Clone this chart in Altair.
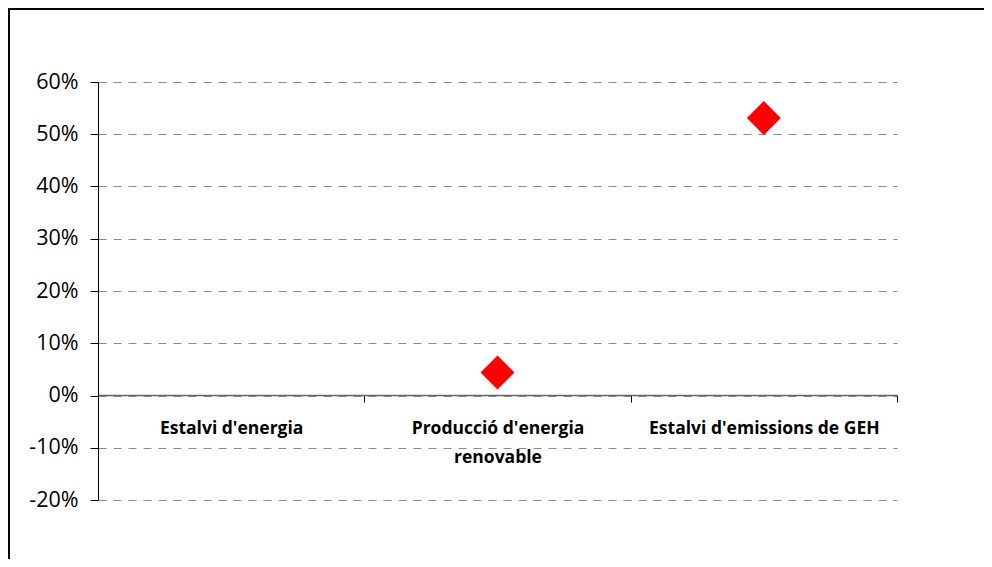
import altair as alt
import pandas as pd

categories = ["Estalvi d'energia", "Producció d'energia renovable", "Estalvi d'emissions de GEH"]
values = [None, 0.044, 0.531]
y_ticks = [-0.2, -0.1, 0.0, 0.1, 0.2, 0.3, 0.4, 0.5, 0.6]

df = pd.DataFrame({"cat": categories, "val": values})

W, H = 799, 418
PL, PT = 90, 74
TOTAL_W, TOTAL_H = 976, 551

label_expr = ('datum.label == "Producció d\'energia renovable" ? '
              '["Producció d\'energia", "renovable"] : datum.label')

x_enc = alt.X(
    "cat:N",
    sort=categories,
    scale=alt.Scale(domain=categories, paddingInner=0, paddingOuter=0),
    axis=alt.Axis(
        title=None,
        orient="bottom",
        offset=-105,
        labelAngle=0,
        labelExpr=label_expr,
        labelFont="Open Sans",
        labelFontWeight="bold",
        labelFontSize=17.5,
        labelColor="black",
        labelPadding=17,
        labelLineHeight=29,
        labelLimit=400,
        tickBand="extent",
        tickSize=7,
        tickColor="black",
        domainColor="#666666",
        domainWidth=1.5,
        grid=False,
        labelOverlap=False,
    ),
)

y_enc = alt.Y(
    "val:Q",
    scale=alt.Scale(domain=[-0.2, 0.6], nice=False, zero=False),
    axis=alt.Axis(
        title=None,
        values=y_ticks,
        labelExpr="replace(format(datum.value, '.0%'), '\u2212', '-')",
        labelFont="Open Sans",
        labelFontSize=21.5,
        labelColor="black",
        labelPadding=12,
        tickSize=8,
        tickColor="black",
        domainColor="black",
        grid=True,
        gridColor="#8a8a8a",
        gridDash=[8, 7],
        gridWidth=1,
    ),
)

frame = alt.Chart(df).mark_rect(
    fill="transparent", stroke="black", strokeWidth=1.5, clip=False
).encode(
    x=alt.value(-PL + 1),
    x2=alt.value(W + 200),
    y=alt.value(-PT + 1),
    y2=alt.value(H + 200),
)

points = alt.Chart(df).mark_point(
    shape="diamond", filled=True, color="#ff0000", size=1150, opacity=1
).encode(x=x_enc, y=y_enc)

chart = alt.layer(frame, points).properties(
    width=W,
    height=H,
    view=alt.ViewBackground(strokeWidth=0, strokeOpacity=0),
    autosize=alt.AutoSizeParams(type="none"),
    padding={"left": PL, "top": PT, "right": TOTAL_W - PL - W, "bottom": TOTAL_H - PT - H},
).configure_view(strokeWidth=0, strokeOpacity=0).configure(background="white")

chart.save("out.html", embed_options={"renderer": "svg", "actions": False})
